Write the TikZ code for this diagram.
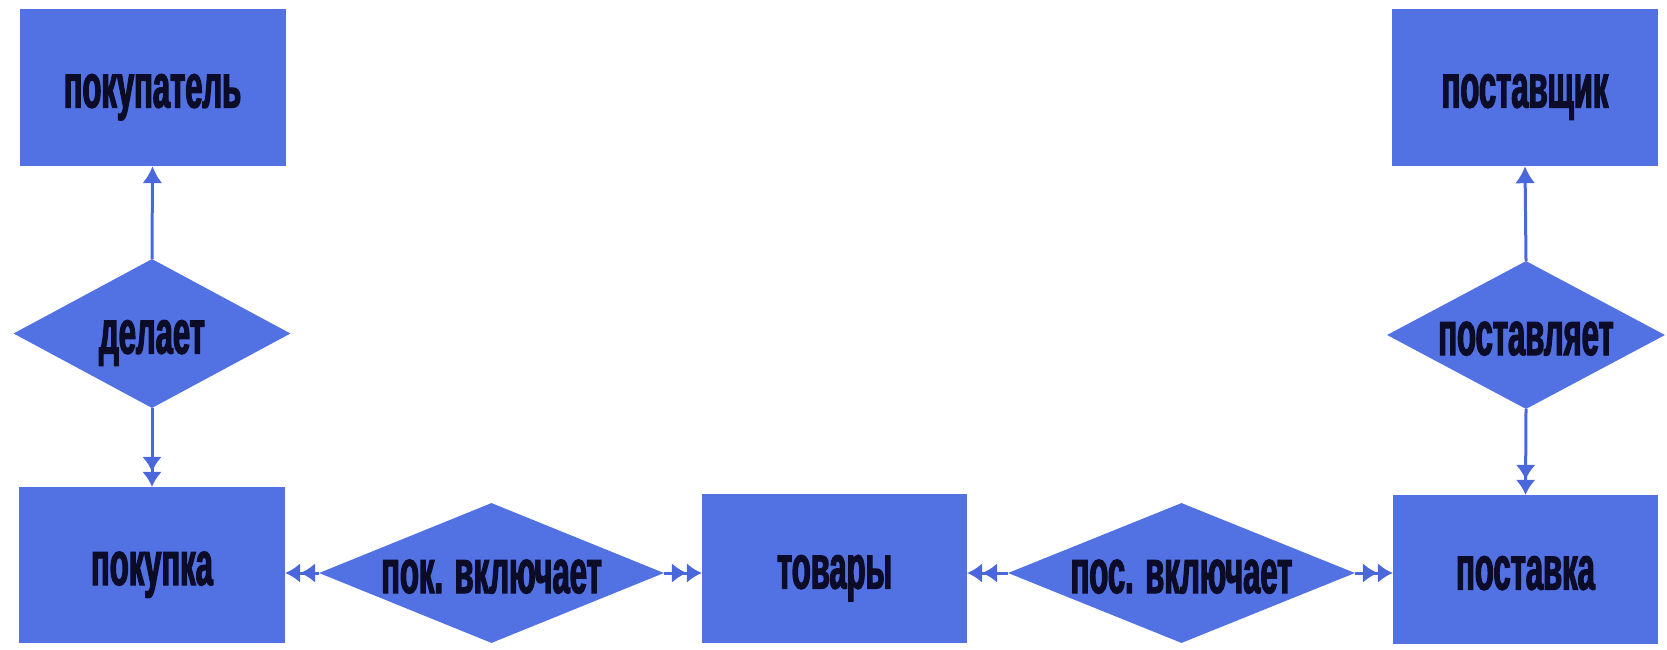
\documentclass[tikz,border=0pt]{standalone}
\usepackage{fontspec}
\usetikzlibrary{shapes.geometric,arrows.meta}
\newfontfamily\condfont{Liberation Sans}[FakeStretch=0.5, BoldFeatures={FakeBold=2}]
\definecolor{boxblue}{RGB}{82,114,228}
\definecolor{lineblue}{RGB}{74,104,220}
\definecolor{txtcol}{RGB}{12,12,40}
\tikzset{
  ent/.style={rectangle, fill=boxblue, draw=none, inner sep=0pt},
  rel/.style={diamond, fill=boxblue, draw=none, inner sep=0pt},
  txt/.style={text=txtcol, font=\condfont\bfseries\fontsize{62}{70}\selectfont, inner sep=0pt, anchor=base, yshift=-20pt},
  conn/.style={draw=lineblue, line width=3pt},
  one/.style={-{Latex[length=17pt,width=20pt]}},
  two/.style={-{Latex[length=15pt,width=20pt]Latex[length=15pt,width=20pt]}},
}
\begin{document}
\begin{tikzpicture}[x=1pt,y=-1pt]
\useasboundingbox (0,0) rectangle (1667,650);
% entities
\node[ent, minimum width=266pt, minimum height=157pt] (buyer) at (152.5,87.5) {};
\node[txt] (buyerT) at (buyer.center) {покупатель};
\node[ent, minimum width=266pt, minimum height=157pt] (supplier) at (1525,87.5) {};
\node[txt] (supplierT) at (supplier.center) {поставщик};
\node[ent, minimum width=266pt, minimum height=156pt] (purchase) at (152,565) {};
\node[txt] (purchaseT) at (purchase.center) {покупка};
\node[ent, minimum width=265pt, minimum height=149pt] (goods) at (834.5,568.5) {};
\node[txt] (goodsT) at (goods.center) {товары};
\node[ent, minimum width=265pt, minimum height=149pt] (delivery) at (1525.5,569.5) {};
\node[txt] (deliveryT) at (delivery.center) {поставка};
% relationships
\node[rel, minimum width=277pt, minimum height=149pt] (makes) at (152,333.5) {};
\node[txt] (makesT) at (makes.center) {делает};
\node[rel, minimum width=278pt, minimum height=148pt] (supplies) at (1526,335) {};
\node[txt] (suppliesT) at (supplies.center) {поставляет};
\node[rel, minimum width=345pt, minimum height=140pt] (pinc) at (491.5,573) {};
\node[txt] (pincT) at (pinc.center) {пок. включает};
\node[rel, minimum width=347pt, minimum height=140pt] (sinc) at (1181.5,573) {};
\node[txt] (sincT) at (sinc.center) {пос. включает};
% connectors
\draw[conn, one] (makes.north) -- (buyer.south);
\draw[conn, two] (makes.south) -- (purchase.north);
\draw[conn, one] (supplies.north) -- (supplier.south);
\draw[conn, two] (supplies.south) -- (delivery.north);
\draw[conn, two] (pinc.west) -- (pinc.west -| purchase.east);
\draw[conn, two] (pinc.east) -- (pinc.east -| goods.west);
\draw[conn, two] (sinc.west) -- (sinc.west -| goods.east);
\draw[conn, two] (sinc.east) -- (sinc.east -| delivery.west);
\end{tikzpicture}
\end{document}
